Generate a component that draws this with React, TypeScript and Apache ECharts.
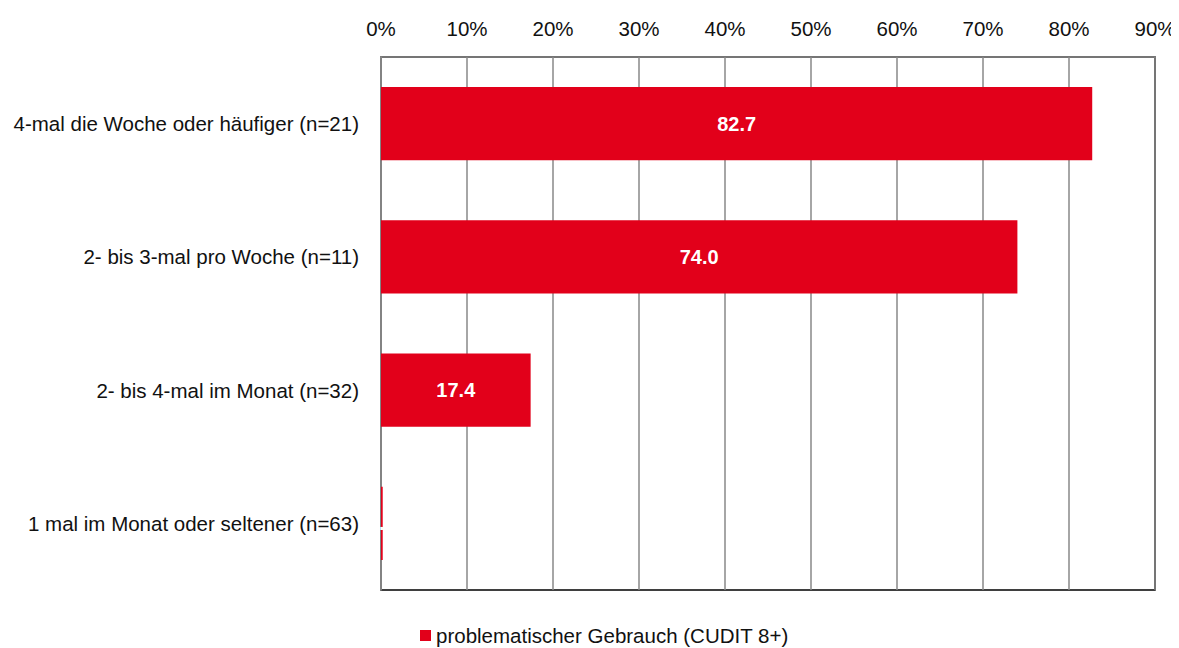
import React, { useEffect, useRef } from "react";
import * as echarts from "echarts";

const categories = [
  "1 mal im Monat oder seltener (n=63)",
  "2- bis 4-mal im Monat (n=32)",
  "2- bis 3-mal pro Woche (n=11)",
  "4-mal die Woche oder häufiger (n=21)",
];
const values = [0.2, 17.4, 74.0, 82.7];
const seriesName = "problematischer Gebrauch (CUDIT 8+)";

export default function App() {
  const ref = useRef<HTMLDivElement>(null);
  useEffect(() => {
    const chart = echarts.init(ref.current!, null, { renderer: "svg" });
    const font = "'Liberation Sans', Arial, sans-serif";
    chart.setOption({
      animation: false,
      textStyle: { fontFamily: font },
      grid: {
        left: 373,
        top: 49,
        width: 774,
        height: 533,
        show: true,
        borderColor: "#000",
        borderWidth: 1.5,
        backgroundColor: "transparent",
        outerBoundsMode: "none",
        containLabel: false,
      },
      legend: {
        left: 412,
        top: 617,
        padding: 0,
        icon: "rect",
        itemWidth: 11,
        itemHeight: 11,
        itemGap: 6,
        textStyle: { fontSize: 20.5, color: "#111", fontFamily: font },
        data: [seriesName],
      },
      xAxis: [
        {
          type: "value",
          position: "top",
          min: 0,
          max: 90,
          interval: 10,
          axisLine: { show: true, lineStyle: { color: "#888", width: 1.5 } },
          axisTick: { show: false },
          axisLabel: {
            formatter: (v: number) => v + "%",
            fontSize: 20.5,
            color: "#111",
            margin: 18,
            fontFamily: font,
          },
          splitLine: { show: true, lineStyle: { color: "#888", width: 1.5 } },
        },
      ],
      yAxis: [
        {
          type: "category",
          data: categories,
          axisLine: { show: true, lineStyle: { color: "#888", width: 1.5 } },
          axisTick: { show: false },
          axisLabel: { fontSize: 20.5, color: "#111", margin: 22, fontFamily: font },
        },
      ],
      series: [
        {
          name: seriesName,
          type: "bar",
          data: values,
          barWidth: "55%",
          itemStyle: { color: "#E2001A" },
          label: {
            show: true,
            position: "inside",
            color: "#fff",
            fontWeight: "bold",
            fontSize: 20,
            fontFamily: font,
            formatter: (p: any) => p.value.toFixed(1),
          },
        },
      ],
    });
    return () => chart.dispose();
  }, []);
  return <div ref={ref} style={{ width: 1171, height: 640 }} />;
}
